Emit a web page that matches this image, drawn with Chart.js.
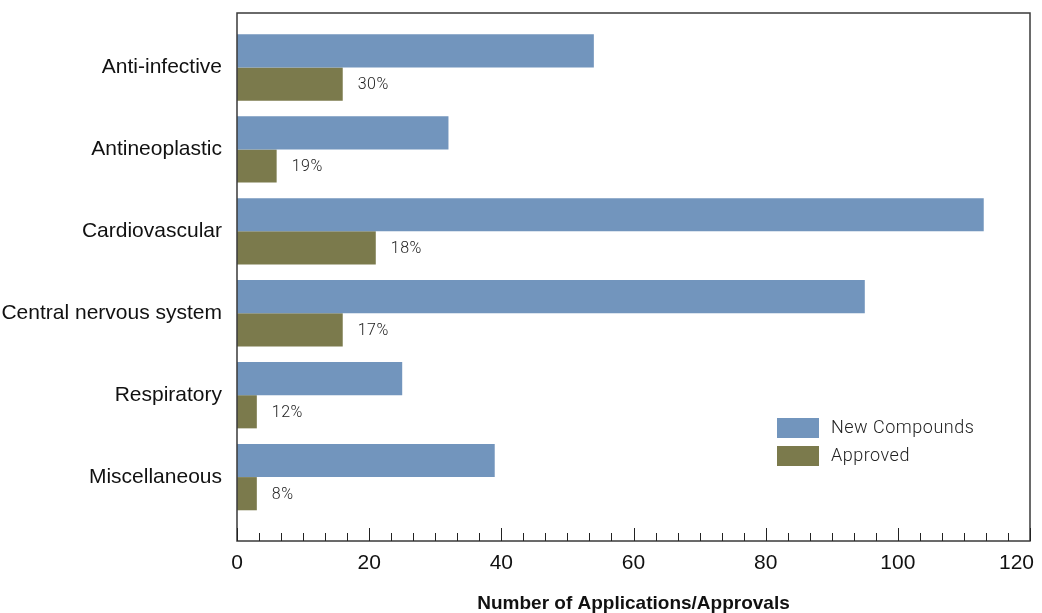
<!DOCTYPE html>
<html>
<head>
<meta charset="utf-8">
<script src="https://cdn.jsdelivr.net/npm/chart.js@4/dist/chart.umd.min.js"></script>
<style>
  html, body { margin: 0; padding: 0; background: #fff; }
  #wrap { width: 1042px; height: 613px; }
</style>
</head>
<body>
<div id="wrap"><canvas id="chart" width="1042" height="613"></canvas></div>
<script>
// data
const categories = ['Anti-infective', 'Antineoplastic', 'Cardiovascular', 'Central nervous system', 'Respiratory', 'Miscellaneous'];
const newCompounds = [54, 32, 113, 95, 25, 39];
const approved = [16, 6, 21, 16, 3, 3];
const approvalRates = ['30%', '19%', '18%', '17%', '12%', '8%'];
const xTicks = [0, 20, 40, 60, 80, 100, 120];

const BLUE = '#7295bd';
const OLIVE = '#7b7a4c';
const AXIS_FONT = "'Liberation Sans', Arial, sans-serif";
const LIGHT_FONT = "Roboto, 'Liberation Sans', sans-serif";

// frame, inward ticks, x labels, percent labels, legend
const decorations = {
    id: 'decorations',
    afterDatasetsDraw(chart) {
        const { ctx, chartArea: a, scales: { x } } = chart;
        ctx.save();

        // box round the plot
        ctx.strokeStyle = '#3a3a3a';
        ctx.lineWidth = 1.5;
        ctx.strokeRect(a.left, a.top, a.right - a.left, a.bottom - a.top);

        // ticks pointing up into the plot, 6 small steps per labelled step
        ctx.lineWidth = 1;
        ctx.strokeStyle = '#222';
        const step = xTicks[1] - xTicks[0];
        const n = (xTicks.length - 1) * 6;
        for (let i = 0; i <= n; i++) {
            const px = Math.round(x.getPixelForValue(i * step / 6)) + 0.5;
            const len = i % 6 === 0 ? 13 : 8;
            ctx.beginPath();
            ctx.moveTo(px, a.bottom);
            ctx.lineTo(px, a.bottom - len);
            ctx.stroke();
        }

        // x tick labels, last one kept inside the canvas
        ctx.fillStyle = '#111';
        ctx.font = "21px " + AXIS_FONT;
        ctx.textAlign = 'center';
        ctx.textBaseline = 'middle';
        xTicks.forEach(v => {
            const label = String(v);
            const w = ctx.measureText(label).width;
            const px = Math.min(x.getPixelForValue(v), chart.width - 8 - w / 2);
            ctx.fillText(label, px, a.bottom + 22);
        });

        // percentages next to the approved bars
        ctx.fillStyle = '#222';
        ctx.font = "300 16px " + LIGHT_FONT;
        ctx.letterSpacing = '0.5px';
        ctx.textAlign = 'left';
        chart.getDatasetMeta(1).data.forEach((bar, i) => {
            ctx.fillText(approvalRates[i], bar.x + 15, bar.y + 1);
        });

        // legend
        const lx = 777, ly = 418;
        chart.data.datasets.forEach((ds, i) => {
            const y = ly + i * 28;
            ctx.fillStyle = ds.backgroundColor;
            ctx.fillRect(lx, y, 42, 20);
            ctx.fillStyle = '#222';
            ctx.font = "300 18px " + LIGHT_FONT;
            ctx.fillText(ds.label, lx + 54, y + 10);
        });
        ctx.restore();
    }
};

new Chart(document.getElementById('chart'), {
    type: 'bar',
    data: {
        datasets: [
            {
                label: 'New Compounds',
                data: newCompounds.map((v, i) => ({ x: v, y: i })),
                backgroundColor: BLUE
            },
            {
                label: 'Approved',
                data: approved.map((v, i) => ({ x: v, y: i })),
                backgroundColor: OLIVE
            }
        ]
    },
    options: {
        indexAxis: 'y',
        responsive: false,
        animation: false,
        devicePixelRatio: 1,
        categoryPercentage: 0.81,
        barPercentage: 1,
        layout: { padding: { top: 13, right: 12, left: 0, bottom: 0 } },
        plugins: {
            legend: { display: false },
            tooltip: { enabled: false }
        },
        scales: {
            x: {
                type: 'linear',
                min: xTicks[0],
                max: xTicks[xTicks.length - 1],
                afterBuildTicks: s => { s.ticks = xTicks.map(v => ({ value: v })); },
                afterFit: s => { s.height = 72; s.paddingLeft = 0; s.paddingRight = 0; },
                border: { display: false },
                grid: { display: false, drawTicks: false },
                ticks: { display: false },
                title: {
                    display: true,
                    text: 'Number of Applications/Approvals',
                    color: '#111',
                    padding: 0,
                    font: { family: AXIS_FONT, size: 19, weight: 'bold', lineHeight: 1 }
                }
            },
            y: {
                type: 'linear',
                reverse: true,
                offset: false,
                min: -0.665,
                max: 5.78,
                afterBuildTicks: s => { s.ticks = categories.map((c, i) => ({ value: i })); },
                afterFit: s => { s.width = 237; s.paddingTop = 0; s.paddingBottom = 0; },
                border: { display: false },
                grid: { display: false, drawTicks: false },
                ticks: {
                    color: '#111',
                    padding: 15,
                    font: { family: AXIS_FONT, size: 21 },
                    callback: v => categories[v]
                }
            }
        }
    },
    plugins: [decorations]
});
</script>
</body>
</html>
